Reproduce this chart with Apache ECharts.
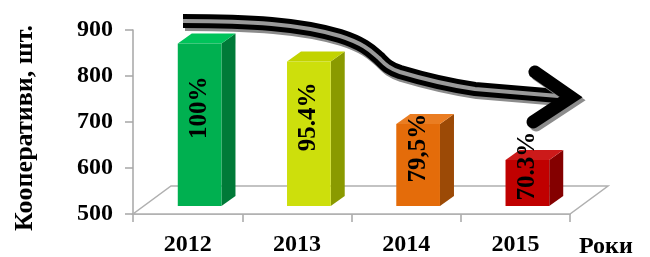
<!DOCTYPE html>
<html>
<head>
<meta charset="utf-8">
<script src="https://cdn.jsdelivr.net/npm/echarts/dist/echarts.min.js"></script>
<style>
  html, body { margin: 0; padding: 0; background: #fff; }
  #chart { width: 650px; height: 257px; }
</style>
</head>
<body>
<div id="chart"></div>
<script>
let years = ['2012', '2013', '2014', '2015'];
let coops = [853, 814, 678, 600];
let shares = ['100%', '95.4%', '79,5%', '70.3%'];
let yTicks = [500, 600, 700, 800, 900];

let frontColors = ['#00b050', '#cddf0c', '#e46c0a', '#c00000'];
let sideColors = ['#007a38', '#8a9a00', '#9c4a06', '#840000'];
let topColors = ['#00c35a', '#c2d300', '#ea7d22', '#cc1a1a'];

let font = '"Liberation Serif", "Times New Roman", serif';
let arrowPath = 'M183,21 C250,21 300,24 340,36 C365,44 372,52 379,58 C385,64 388,68 400,72 C430,81 455,86 475,89 L570,97';

// big curved trend arrow: grey shadow, black band, grey centre stripe
function arrowParts() {
  return [
    { type: 'path', x: 2, y: 3, shape: { pathData: arrowPath }, style: { fill: null, stroke: '#8c8c8c', lineWidth: 14 } },
    { type: 'path', shape: { pathData: arrowPath }, style: { fill: null, stroke: '#000', lineWidth: 14 } },
    { type: 'path', shape: { pathData: arrowPath }, style: { fill: null, stroke: '#9a9a9a', lineWidth: 4 } },
    {
      type: 'polyline', x: 3, y: 3,
      shape: { points: [[535, 72], [571, 97], [533, 122]] },
      style: { stroke: '#8c8c8c', lineWidth: 13, lineCap: 'round', lineJoin: 'miter', fill: null }
    },
    {
      type: 'polyline',
      shape: { points: [[535, 72], [571, 97], [533, 122]] },
      style: { stroke: '#000', lineWidth: 13, lineCap: 'round', lineJoin: 'miter', fill: null }
    }
  ];
}

function renderBar(params, api) {
  let i = params.dataIndex;
  let cs = params.coordSys;
  let base = api.coord([api.value(0), yTicks[0]]);
  let top = api.coord([api.value(0), api.value(1)]);
  let w = api.size([1, 0])[0] * 0.4;
  let sx = 12, sy = -8;    // bars sit a bit back on the floor
  let dx = 14, dy = -10;   // bar depth
  let xl = base[0] + sx - w / 2;
  let xr = xl + w;
  let yb = base[1] + sy;
  let yt = top[1] + sy;
  let children = [];
  if (i === 0) {
    let fx0 = cs.x, fx1 = cs.x + cs.width, fy = cs.y + cs.height;
    children.push({
      type: 'polygon',
      shape: { points: [[fx0, fy], [fx1, fy], [fx1 + 38, fy - 28], [fx0 + 38, fy - 28]] },
      style: { fill: '#fff', stroke: '#b0b0b0', lineWidth: 1.5 }
    });
  }
  children.push({
    type: 'polygon',
    shape: { points: [[xr, yt], [xr + dx, yt + dy], [xr + dx, yb + dy], [xr, yb]] },
    style: { fill: sideColors[i] }
  });
  children.push({
    type: 'polygon',
    shape: { points: [[xl, yt], [xr, yt], [xr + dx, yt + dy], [xl + dx, yt + dy]] },
    style: { fill: topColors[i] }
  });
  children.push({
    type: 'rect',
    shape: { x: xl, y: yt, width: w, height: yb - yt },
    style: { fill: frontColors[i] }
  });
  children.push({
    type: 'text',
    x: (xl + xr) / 2,
    y: (yt + yb) / 2 - 17,
    rotation: Math.PI / 2,
    style: {
      text: shares[i],
      font: 'bold 25px ' + font,
      fill: '#000',
      align: 'center',
      verticalAlign: 'middle'
    }
  });
  if (i === coops.length - 1) {
    children = children.concat(arrowParts());
  }
  return { type: 'group', children: children };
}

let chart = echarts.init(document.getElementById('chart'));
let option = {
  animation: false,
  grid: { left: 133, right: 80, top: 30, bottom: 41 },
  xAxis: {
    type: 'category',
    data: years,
    axisLine: { lineStyle: { color: '#a6a6a6', width: 1.5 } },
    axisTick: { show: true, length: 8, lineStyle: { color: '#a6a6a6', width: 1.5 } },
    axisLabel: { margin: 19, color: '#000', fontSize: 24, fontWeight: 'bold', fontFamily: font }
  },
  yAxis: {
    type: 'value',
    min: yTicks[0],
    max: yTicks[yTicks.length - 1],
    interval: 100,
    axisLine: { show: true, lineStyle: { color: '#a6a6a6', width: 1.5 } },
    axisTick: { show: true, length: 8, lineStyle: { color: '#a6a6a6', width: 1.5 } },
    splitLine: { show: false },
    axisLabel: { margin: 20, color: '#000', fontSize: 24, fontWeight: 'bold', fontFamily: font }
  },
  series: [{
    type: 'custom',
    renderItem: renderBar,
    clip: false,
    data: coops.map((v, i) => [i, v])
  }],
  graphic: [
    {
      type: 'text', x: 25, y: 128, rotation: Math.PI / 2,
      style: { text: 'Кооперативи, шт.', font: 'bold 26px ' + font, fill: '#000', align: 'center', verticalAlign: 'middle' }
    },
    {
      type: 'text', x: 579, y: 247,
      style: { text: 'Роки', font: 'bold 24px ' + font, fill: '#000', align: 'left', verticalAlign: 'middle' }
    }
  ]
};
chart.setOption(option);
</script>
</body>
</html>
